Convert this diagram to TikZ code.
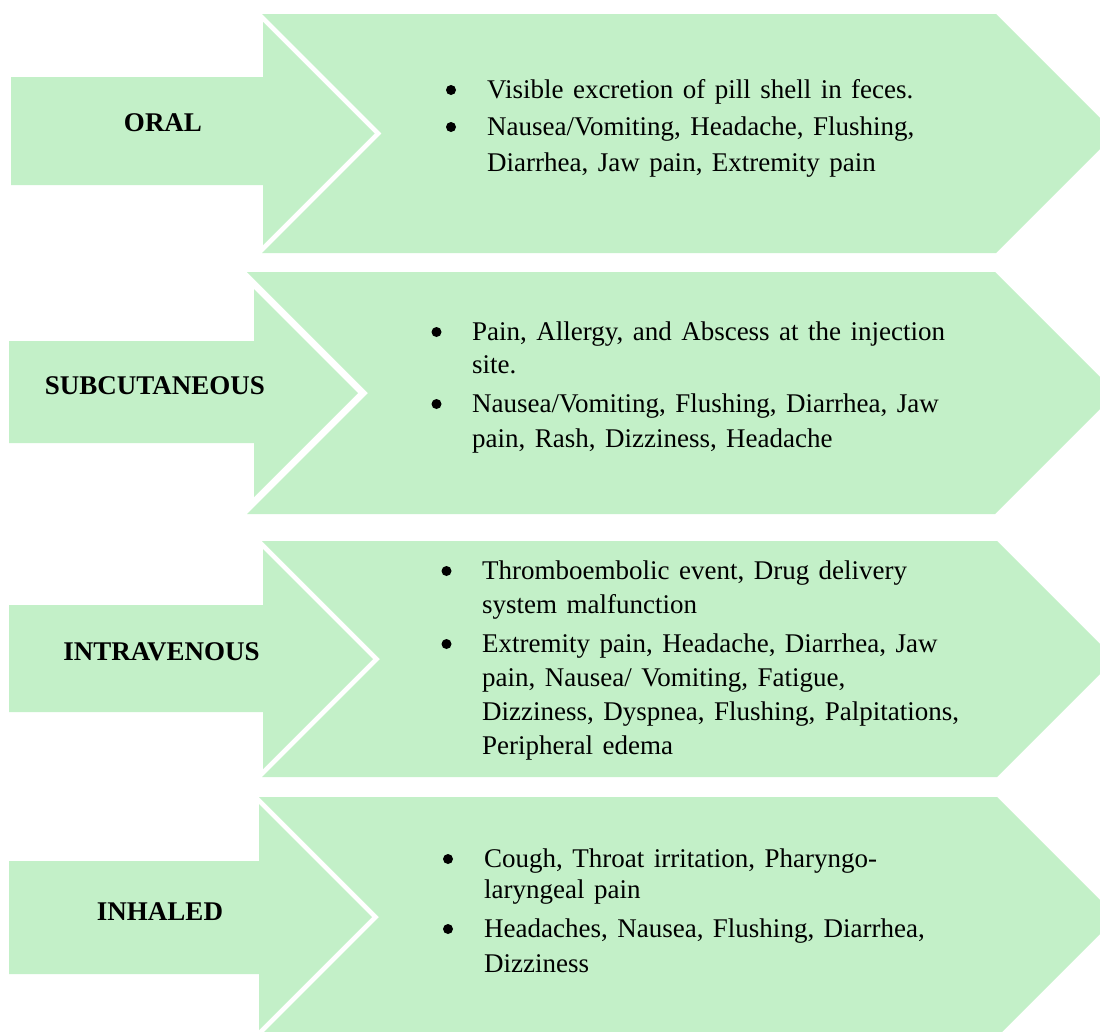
\documentclass[tikz,border=0pt]{standalone}
\usepackage{fontspec}
\setmainfont{Liberation Serif}[WordSpace=1.4]
\definecolor{chev}{RGB}{195,240,200}
\newcommand{\itemtext}[2]{\parbox[t]{620pt}{\raggedright\fontsize{27}{#1}\selectfont #2}}
\begin{document}
\begin{tikzpicture}[x=1pt,y=-1pt,
  greenshape/.style={fill=chev, draw=none},
  lab/.style={font=\fontsize{27}{30}\selectfont\bfseries, inner sep=0pt, anchor=center},
  itemnode/.style={inner sep=0pt, anchor=base west},
  bulletdot/.style={fill=black},
]
\useasboundingbox (0,0) rectangle (1100,1031);
\fill[white] (0,0) rectangle (1100,1031);
\clip (0,0) rectangle (1100,1031);

% ---- Row 1: ORAL
\fill[greenshape] (262,14) -- (996,14) -- (1115.5,133.5) -- (996,253) -- (262,253) -- (381.5,133.5) -- cycle;
\fill[greenshape] (11,77) -- (263,77) -- (263,22) -- (374.5,133.5) -- (263,245) -- (263,185) -- (11,185) -- cycle;
\node[lab] (oral) at (163,123) {ORAL};
\node[itemnode] (oral1) at (487,98) {\itemtext{36}{Visible excretion of pill shell in feces.}};
\node[itemnode] (oral2) at (487,135) {\itemtext{36}{Nausea/Vomiting, Headache, Flushing,\\Diarrhea, Jaw pain, Extremity pain}};
\fill[bulletdot] (451,90) circle (5);
\fill[bulletdot] (451,127) circle (5);

% ---- Row 2: SUBCUTANEOUS
\fill[greenshape] (247,272) -- (995,272) -- (1116,393) -- (995,514) -- (247,514) -- (368,393) -- cycle;
\fill[greenshape] (9,341) -- (254,341) -- (254,289) -- (358,393) -- (254,497) -- (254,443) -- (9,443) -- cycle;
\node[lab] (subc) at (155,385.5) {SUBCUTANEOUS};
\node[itemnode] (subc1) at (472,340) {\itemtext{33}{Pain, Allergy, and Abscess at the injection\\site.}};
\node[itemnode] (subc2) at (472,412) {\itemtext{35}{Nausea/Vomiting, Flushing, Diarrhea, Jaw\\pain, Rash, Dizziness, Headache}};
\fill[bulletdot] (436.5,332) circle (5);
\fill[bulletdot] (436.5,404) circle (5);

% ---- Row 3: INTRAVENOUS
\fill[greenshape] (262,541) -- (997,541) -- (1115,659) -- (997,777) -- (262,777) -- (380,659) -- cycle;
\fill[greenshape] (9,605) -- (263,605) -- (263,549) -- (373,659) -- (263,769) -- (263,712) -- (9,712) -- cycle;
\node[lab] (intra) at (161.5,652) {INTRAVENOUS};
\node[itemnode] (intra1) at (482,579) {\itemtext{34}{Thromboembolic event, Drug delivery\\system malfunction}};
\node[itemnode] (intra2) at (482,652) {\itemtext{34.3}{Extremity pain, Headache, Diarrhea, Jaw\\pain, Nausea/ Vomiting, Fatigue,\\Dizziness, Dyspnea, Flushing, Palpitations,\\Peripheral edema}};
\fill[bulletdot] (446.5,571) circle (5);
\fill[bulletdot] (446.5,644) circle (5);

% ---- Row 4: INHALED
\fill[greenshape] (259,797) -- (997,797) -- (1117,917) -- (997,1037) -- (259,1037) -- (379,917) -- cycle;
\fill[greenshape] (9,861) -- (259,861) -- (259,804) -- (372,917) -- (259,1030) -- (259,974) -- (9,974) -- cycle;
\node[lab] (inh) at (160,912) {INHALED};
\node[itemnode] (inh1) at (484,867) {\itemtext{31.5}{Cough, Throat irritation, Pharyngo-\\laryngeal pain}};
\node[itemnode] (inh2) at (484,937) {\itemtext{35}{Headaches, Nausea, Flushing, Diarrhea,\\Dizziness}};
\fill[bulletdot] (448,859) circle (5);
\fill[bulletdot] (448,929) circle (5);
\end{tikzpicture}
\end{document}
